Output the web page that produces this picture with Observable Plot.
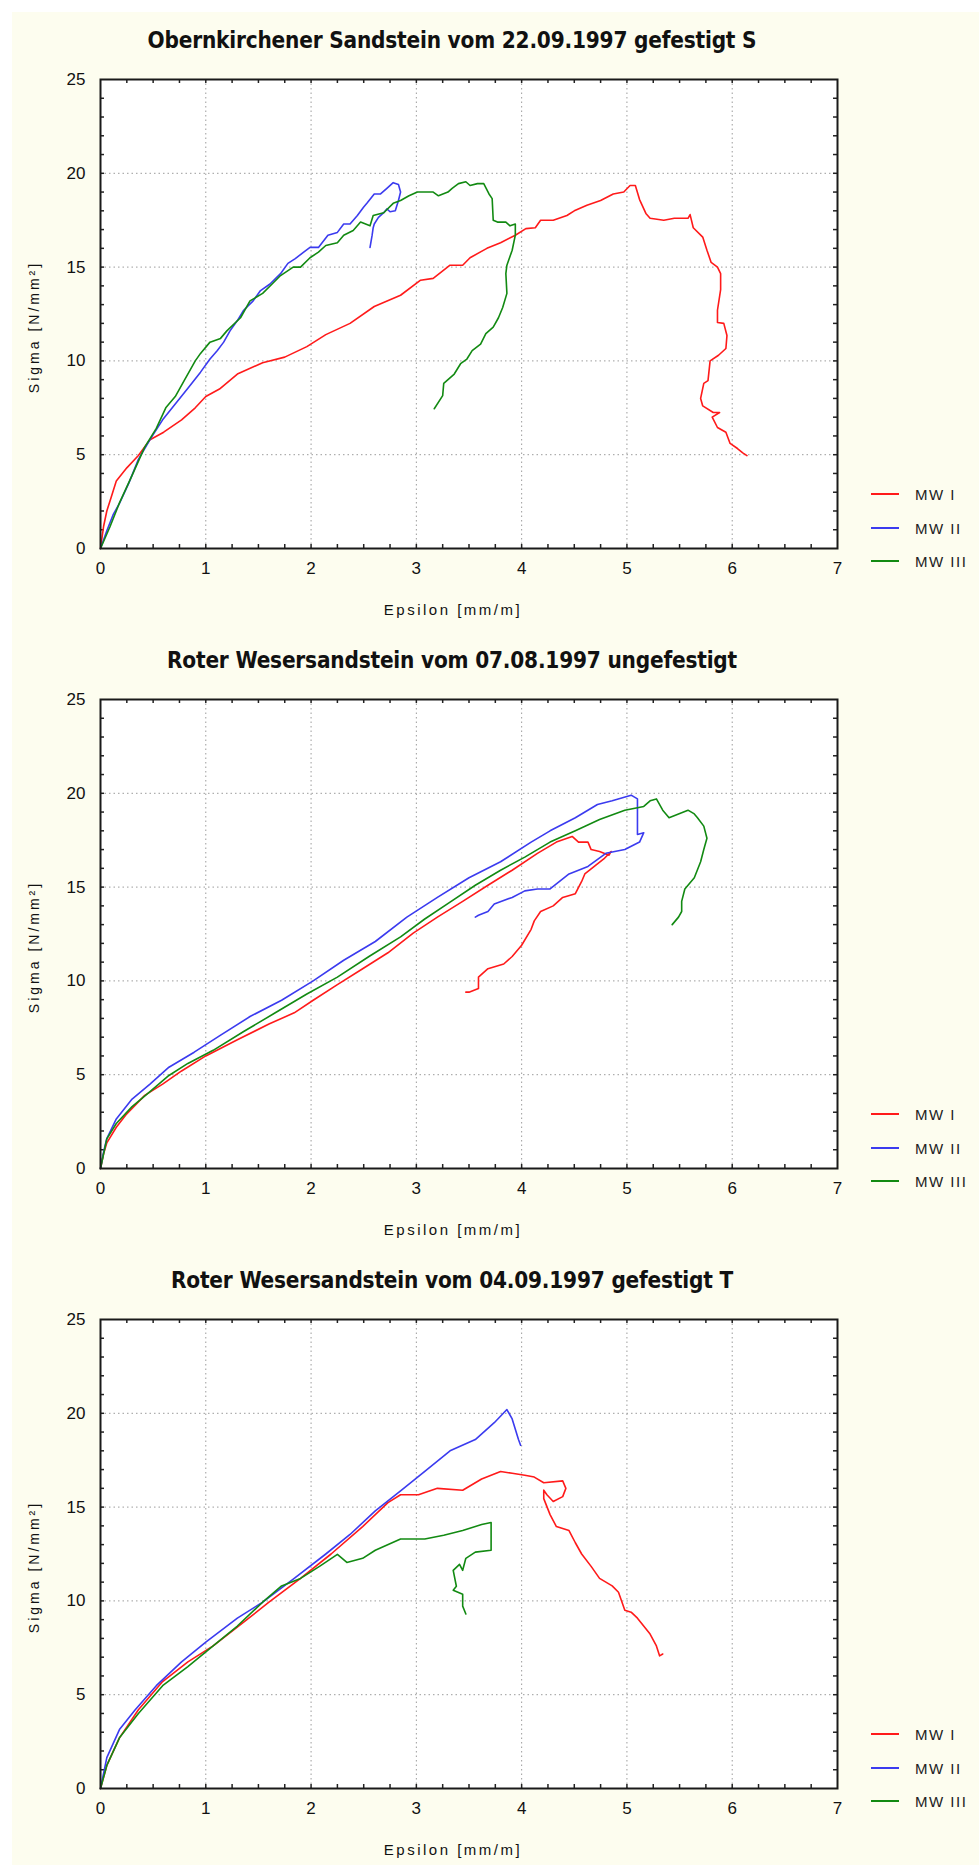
<!DOCTYPE html>
<html>
<head>
<meta charset="utf-8">
<script src="https://cdn.jsdelivr.net/npm/d3@7"></script>
<script src="https://cdn.jsdelivr.net/npm/@observablehq/plot@0.6"></script>
<style>
  html, body { margin: 0; padding: 0; background: #ffffff; }
  #page { position: relative; width: 979px; height: 1865px; overflow: hidden; }
  #paper { position: absolute; left: 12px; top: 12px; right: 0; bottom: 0; background: #fdfdef; }
  .panel { position: absolute; left: 0; width: 979px; height: 620px; }
  .panel svg { position: absolute; left: 0; top: 0; }
  .title {
    position: absolute; left: 452px; top: 40px; transform: translate(-50%, -50%);
    white-space: nowrap; font-family: "Liberation Sans Narrow", "Arial Narrow", "DejaVu Sans Condensed", sans-serif;
    font-weight: bold; font-size: 22.4px; color: #111; letter-spacing: -0.2px;
  }
  .ylab {
    position: absolute; left: 34px; top: 327px; transform: translate(-50%, -50%) rotate(-90deg);
    white-space: nowrap; font-family: "Liberation Sans", Arial, sans-serif; font-size: 14px;
    letter-spacing: 3px; color: #111;
  }
  .xlab {
    position: absolute; left: 453px; top: 609px; transform: translate(-50%, -50%);
    white-space: nowrap; font-family: "Liberation Sans", Arial, sans-serif; font-size: 15px;
    letter-spacing: 2.5px; color: #111;
  }
  .leg { position: absolute; left: 871px; height: 0; }
  .leg .sw { position: absolute; left: 0; top: -1px; width: 28px; height: 2px; }
  .leg .tx {
    position: absolute; left: 44px; top: 0; transform: translateY(-50%); white-space: nowrap;
    font-family: "Liberation Sans", Arial, sans-serif; font-size: 15px; letter-spacing: 1.5px; color: #222;
  }
</style>
</head>
<body>
<div id="page"><div id="paper"></div></div>
<script>
// Stress–strain curves of three sandstone test series (MW I, MW II, MW III)
const seriesNames = ["MW I", "MW II", "MW III"];
const seriesColors = ["#ff1a1a", "#3b3bef", "#128a12"];
const xTicks = [0, 1, 2, 3, 4, 5, 6, 7];
const yTicks = [0, 5, 10, 15, 20, 25];
const xGrid = [1, 2, 3, 4, 5, 6];
const yGrid = [5, 10, 15, 20];
const xMinor = d3.range(1, 28).map(i => i / 4);
const yMinor = d3.range(1, 25);
const xLabel = "Epsilon [mm/m]";
const yLabel = "Sigma [N/mm²]";
const titles = [
  "Obernkirchener Sandstein vom 22.09.1997 gefestigt S",
  "Roter Wesersandstein vom 07.08.1997 ungefestigt",
  "Roter Wesersandstein vom 04.09.1997 gefestigt T"
];

// [epsilon, sigma] pairs — Obernkirchener Sandstein, gefestigt S
const obernMW1 = [[0,0],[0.03,1.2],[0.06,2.0],[0.1,2.7],[0.15,3.6],[0.25,4.3],[0.36,4.96],[0.47,5.8],[0.6,6.2],[0.77,6.86],[0.9,7.5],[1.0,8.1],[1.13,8.5],[1.3,9.3],[1.54,9.9],[1.75,10.2],[1.96,10.76],[2.14,11.4],[2.37,12.0],[2.6,12.9],[2.85,13.5],[3.04,14.3],[3.16,14.4],[3.32,15.1],[3.44,15.1],[3.51,15.5],[3.67,16.0],[3.8,16.3],[3.94,16.7],[4.04,17.05],[4.13,17.1],[4.18,17.5],[4.3,17.5],[4.43,17.75],[4.5,18.0],[4.62,18.3],[4.75,18.55],[4.87,18.9],[4.97,19.0],[5.03,19.35],[5.08,19.35],[5.12,18.6],[5.18,17.86],[5.22,17.6],[5.35,17.5],[5.45,17.6],[5.58,17.6],[5.6,17.8],[5.63,17.1],[5.72,16.6],[5.76,15.9],[5.8,15.25],[5.86,15.0],[5.89,14.65],[5.89,13.8],[5.86,12.7],[5.86,12.05],[5.92,12.0],[5.95,11.35],[5.94,10.66],[5.87,10.3],[5.79,10.0],[5.77,8.95],[5.73,8.8],[5.7,8.0],[5.72,7.6],[5.82,7.25],[5.88,7.25],[5.81,7.0],[5.86,6.45],[5.94,6.2],[5.98,5.6],[6.05,5.33],[6.1,5.1],[6.14,4.95]];
const obernMW2 = [[0,0],[0.06,0.95],[0.12,1.8],[0.18,2.4],[0.27,3.5],[0.36,4.75],[0.47,5.8],[0.59,6.86],[0.71,7.7],[0.83,8.54],[0.95,9.4],[1.04,10.1],[1.11,10.55],[1.17,11.0],[1.23,11.6],[1.3,12.15],[1.36,12.7],[1.45,13.2],[1.52,13.75],[1.61,14.1],[1.71,14.65],[1.78,15.2],[1.85,15.45],[1.93,15.8],[1.99,16.05],[2.07,16.05],[2.16,16.7],[2.25,16.85],[2.31,17.3],[2.37,17.3],[2.44,17.75],[2.5,18.2],[2.53,18.4],[2.6,18.9],[2.66,18.9],[2.72,19.2],[2.78,19.5],[2.83,19.4],[2.85,19.0],[2.83,18.55],[2.8,18.0],[2.75,17.95],[2.72,18.1],[2.69,17.9],[2.64,17.65],[2.6,17.3],[2.59,17.1],[2.58,16.7],[2.56,16.05]];
const obernMW3 = [[0,0],[0.09,1.16],[0.18,2.43],[0.3,3.9],[0.42,5.4],[0.53,6.4],[0.62,7.5],[0.71,8.1],[0.8,9.0],[0.9,10.0],[0.95,10.4],[1.04,11.0],[1.14,11.2],[1.2,11.6],[1.33,12.3],[1.42,13.2],[1.54,13.6],[1.63,14.1],[1.71,14.55],[1.83,15.0],[1.9,15.0],[1.99,15.5],[2.07,15.8],[2.14,16.15],[2.25,16.3],[2.31,16.7],[2.4,16.95],[2.47,17.4],[2.56,17.2],[2.59,17.75],[2.69,17.9],[2.78,18.4],[2.85,18.55],[2.93,18.8],[3.01,19.0],[3.16,19.0],[3.21,18.8],[3.3,19.0],[3.34,19.2],[3.4,19.45],[3.47,19.55],[3.51,19.35],[3.58,19.45],[3.64,19.45],[3.69,18.9],[3.72,18.65],[3.73,17.5],[3.77,17.4],[3.85,17.4],[3.89,17.2],[3.94,17.3],[3.94,16.7],[3.91,15.9],[3.86,15.1],[3.85,14.65],[3.86,13.6],[3.82,12.85],[3.78,12.3],[3.73,11.8],[3.66,11.45],[3.61,10.9],[3.53,10.55],[3.48,10.1],[3.42,9.85],[3.36,9.3],[3.26,8.8],[3.25,8.15],[3.17,7.45]];

// Roter Wesersandstein, ungefestigt
const weserUMW1 = [[0,0],[0.03,0.8],[0.06,1.37],[0.15,2.2],[0.24,2.85],[0.42,3.9],[0.59,4.5],[0.77,5.2],[1.0,6.0],[1.3,6.86],[1.6,7.7],[1.84,8.3],[2.02,8.97],[2.25,9.8],[2.49,10.65],[2.73,11.5],[2.97,12.55],[3.2,13.4],[3.44,14.24],[3.68,15.1],[3.91,15.9],[4.15,16.8],[4.33,17.4],[4.48,17.7],[4.54,17.4],[4.63,17.4],[4.66,17.0],[4.74,16.9],[4.83,16.7],[4.85,16.9],[4.78,16.5],[4.69,16.1],[4.6,15.7],[4.57,15.3],[4.51,14.65],[4.39,14.45],[4.3,14.0],[4.18,13.7],[4.12,13.2],[4.09,12.75],[4.0,11.9],[3.91,11.3],[3.83,10.9],[3.68,10.65],[3.59,10.2],[3.59,9.6],[3.5,9.4],[3.47,9.4]];
const weserUMW2 = [[0,0],[0.03,0.9],[0.06,1.6],[0.15,2.64],[0.3,3.7],[0.47,4.5],[0.65,5.4],[0.89,6.2],[1.13,7.07],[1.42,8.1],[1.72,8.97],[2.02,10.0],[2.31,11.1],[2.61,12.1],[2.91,13.4],[3.2,14.45],[3.5,15.5],[3.8,16.35],[4.09,17.4],[4.27,18.0],[4.51,18.7],[4.72,19.4],[4.86,19.6],[5.04,19.9],[5.1,19.7],[5.1,18.7],[5.1,17.8],[5.16,17.9],[5.12,17.4],[4.98,17.0],[4.8,16.8],[4.63,16.1],[4.45,15.7],[4.27,14.9],[4.15,14.9],[4.03,14.8],[3.91,14.45],[3.74,14.1],[3.68,13.7],[3.59,13.5],[3.56,13.4]];
const weserUMW3 = [[0,0],[0.03,0.8],[0.06,1.58],[0.15,2.4],[0.3,3.3],[0.47,4.1],[0.65,4.96],[0.83,5.6],[1.07,6.3],[1.36,7.3],[1.66,8.3],[1.96,9.3],[2.25,10.2],[2.55,11.3],[2.85,12.35],[3.08,13.3],[3.32,14.2],[3.56,15.1],[3.8,15.9],[4.03,16.6],[4.27,17.4],[4.51,18.0],[4.74,18.6],[4.98,19.1],[5.16,19.3],[5.22,19.6],[5.28,19.7],[5.34,19.1],[5.4,18.7],[5.49,18.9],[5.58,19.1],[5.64,18.9],[5.67,18.7],[5.73,18.25],[5.76,17.6],[5.73,17.0],[5.7,16.35],[5.64,15.5],[5.55,14.9],[5.52,14.24],[5.52,13.7],[5.49,13.4],[5.43,13.0]];

// Roter Wesersandstein, gefestigt T
const weserTMW1 = [[0,0],[0.06,1.23],[0.18,2.7],[0.36,4.2],[0.59,5.7],[0.83,6.75],[1.07,7.6],[1.36,8.87],[1.6,9.93],[1.9,11.2],[2.19,12.5],[2.49,13.96],[2.73,15.24],[2.85,15.66],[3.02,15.66],[3.2,16.0],[3.44,15.9],[3.62,16.5],[3.8,16.9],[3.91,16.8],[4.03,16.7],[4.12,16.6],[4.21,16.3],[4.39,16.4],[4.42,16.0],[4.39,15.56],[4.3,15.3],[4.24,15.66],[4.21,15.9],[4.21,15.45],[4.27,14.6],[4.33,13.96],[4.45,13.75],[4.51,13.1],[4.57,12.5],[4.66,11.84],[4.74,11.2],[4.86,10.8],[4.92,10.46],[4.98,9.5],[5.04,9.4],[5.1,9.08],[5.22,8.23],[5.28,7.6],[5.31,7.07],[5.34,7.17]];
const weserTMW2 = [[0,0],[0.06,1.65],[0.18,3.14],[0.33,4.2],[0.53,5.48],[0.77,6.75],[1.0,7.8],[1.3,9.08],[1.54,9.93],[1.84,11.2],[2.14,12.5],[2.37,13.54],[2.61,14.8],[2.85,15.87],[3.08,16.9],[3.32,18.0],[3.56,18.6],[3.74,19.5],[3.86,20.2],[3.91,19.7],[3.97,18.6],[3.99,18.3]];
const weserTMW3 = [[0,0],[0.06,1.23],[0.18,2.7],[0.36,4.0],[0.59,5.48],[0.83,6.5],[1.07,7.6],[1.3,8.66],[1.54,9.93],[1.72,10.8],[1.9,11.2],[2.08,11.84],[2.25,12.48],[2.34,12.05],[2.49,12.27],[2.61,12.7],[2.85,13.3],[3.08,13.3],[3.26,13.5],[3.44,13.75],[3.62,14.07],[3.71,14.18],[3.71,12.7],[3.56,12.6],[3.47,12.27],[3.44,11.63],[3.41,11.95],[3.35,11.63],[3.38,10.78],[3.35,10.57],[3.44,10.36],[3.44,9.72],[3.47,9.3]];

const panels = [
  [obernMW1, obernMW2, obernMW3],
  [weserUMW1, weserUMW2, weserUMW3],
  [weserTMW1, weserTMW2, weserTMW3]
];

function tidy(curves) {
  return curves.flatMap((pts, i) => pts.map(([e, s], k) => ({series: seriesNames[i], k, e, s})));
}

const page = document.getElementById("page");

panels.forEach((curves, p) => {
  const panel = document.createElement("div");
  panel.className = "panel";
  panel.style.top = (p * 620) + "px";

  const chart = Plot.plot({
    width: 979,
    height: 620,
    marginLeft: 100,
    marginRight: 142,
    marginTop: 79,
    marginBottom: 72,
    style: {background: "transparent", fontFamily: "'Liberation Sans', Arial, sans-serif", color: "#111"},
    x: {domain: [0, 7]},
    y: {domain: [0, 25]},
    color: {domain: seriesNames, range: seriesColors},
    marks: [
      Plot.frame({fill: "#ffffff"}),
      Plot.ruleX(xGrid, {stroke: "#9c9c9c", strokeDasharray: "1.5,3"}),
      Plot.ruleY(yGrid, {stroke: "#9c9c9c", strokeDasharray: "1.5,3"}),
      Plot.tickX(xMinor, {x: d => d, insetTop: 465, stroke: "#222", strokeWidth: 1.5}),
      Plot.tickX(xMinor, {x: d => d, insetBottom: 465, stroke: "#222", strokeWidth: 1.5}),
      Plot.tickY(yMinor, {y: d => d, insetRight: 733, stroke: "#222", strokeWidth: 1.5}),
      Plot.tickY(yMinor, {y: d => d, insetLeft: 733, stroke: "#222", strokeWidth: 1.5}),
      Plot.line(tidy(curves), {x: "e", y: "s", z: "series", stroke: "series", strokeWidth: 1.6, curve: "linear"}),
      Plot.frame({stroke: "#1a1a1a", strokeWidth: 2}),
      Plot.axisX({ticks: xTicks, tickFormat: d3.format("d"), tickSize: 0, tickPadding: 13, fontSize: 17, label: null}),
      Plot.axisY({ticks: yTicks, tickFormat: d3.format("d"), tickSize: 0, tickPadding: 15, fontSize: 17, label: null})
    ]
  });
  panel.appendChild(chart);

  const t = document.createElement("div");
  t.className = "title";
  t.textContent = titles[p];
  panel.appendChild(t);

  const yl = document.createElement("div");
  yl.className = "ylab";
  yl.textContent = yLabel;
  panel.appendChild(yl);

  const xl = document.createElement("div");
  xl.className = "xlab";
  xl.textContent = xLabel;
  panel.appendChild(xl);

  [494, 528, 561].forEach((top, i) => {
    const lg = document.createElement("div");
    lg.className = "leg";
    lg.style.top = top + "px";
    const sw = document.createElement("div");
    sw.className = "sw";
    sw.style.background = seriesColors[i];
    const tx = document.createElement("div");
    tx.className = "tx";
    tx.textContent = seriesNames[i];
    lg.appendChild(sw);
    lg.appendChild(tx);
    panel.appendChild(lg);
  });

  page.appendChild(panel);
});
</script>
</body>
</html>
